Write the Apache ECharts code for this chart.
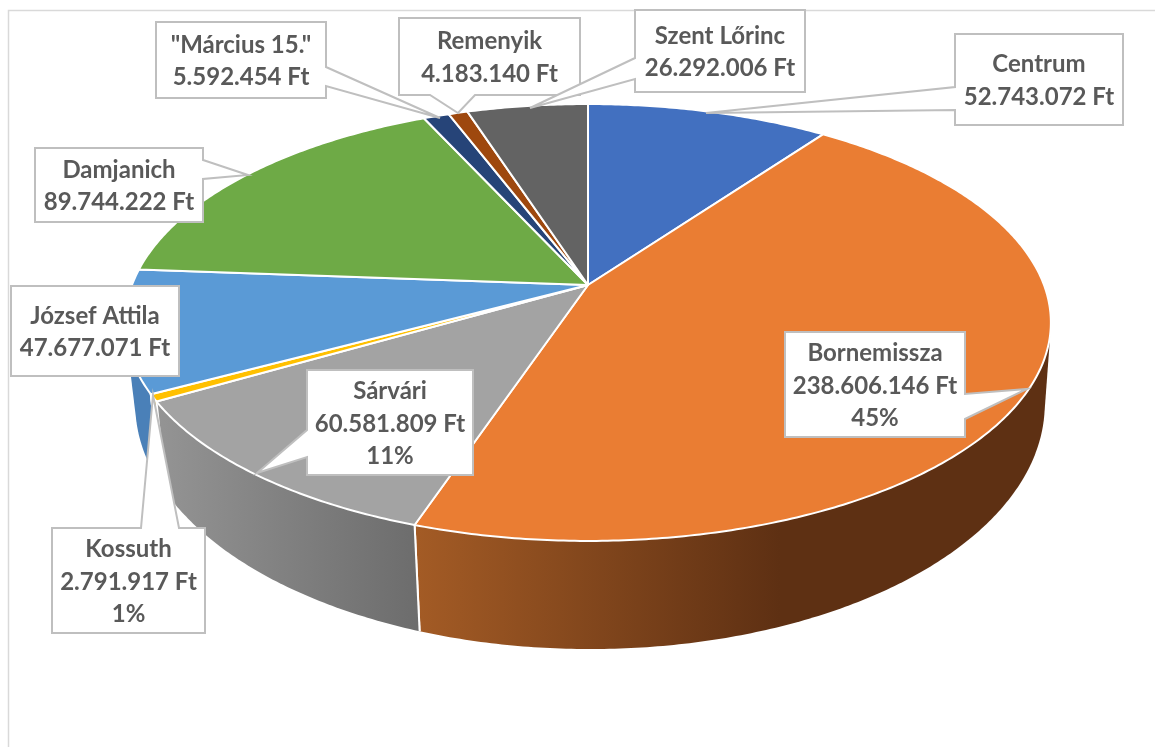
<!DOCTYPE html>
<html><head><meta charset="utf-8">
<style>html,body{margin:0;padding:0;background:#fff}#c{width:1155px;height:747px}</style>
<script src="https://cdn.jsdelivr.net/npm/echarts@6/dist/echarts.min.js"></script>
</head><body><div id="c"></div>
<script>
// ---- data ----
const categories = ['Centrum','Bornemissza','Sárvári','Kossuth','József Attila','Damjanich','"Március 15."','Remenyik','Szent Lőrinc'];
const values = [52743072,238606146,60581809,2791917,47677071,89744222,5592454,4183140,26292006];
const withPercent = ['Bornemissza','Sárvári','Kossuth'];
const topColors = ['#4270c0','#ea7d33','#a3a3a3','#ffc000','#5a9ad6','#6eaa46','#264478','#9e480e','#636363'];
const wallColors = [
  ['#2f4f88','#2f4f88'],['#a35b25','#5e3013'],['#949494','#6d6d6d'],['#c99800','#c99800'],
  ['#4a80b8','#4a80b8'],['#4e7a32','#4e7a32'],['#1a2f54','#1a2f54'],['#6e320a','#6e320a'],['#454545','#454545']];

// ---- perspective geometry of the pie's top and bottom rims ----
const topRim = {cx:588, cy:285, a:456, b:212, k:0.1716};
const botRim = {cx:590, cy:362, a:448, b:237.8, k:0.1716};
const wallGrad = [null,[418,780],[157,415],null,null,null,null,null,null];

// ---- callout layout: box [x0,y0,x1,y1], pointer tip and the two points where it leaves the box ----
const callouts = {
  'Centrum':      {box:[955,34,1123,125],  tip:[706,113], side:'left',  p:[87,110]},
  'Bornemissza':  {box:[785,332,965,437],  tip:[1027,389],side:'right', p:[394,419]},
  'Sárvári':      {box:[307,370,473,475],  tip:[257,473], side:'left',  p:[430,457]},
  'Kossuth':      {box:[52,528,205,633],   tip:[153,395], side:'top',   p:[141,179]},
  'József Attila':{box:[11,286,179,376]},
  'Damjanich':    {box:[35,148,203,222],   tip:[248,175], side:'right', p:[160,179]},
  '"Március 15."':{box:[156,22,326,98],    tip:[440,118], side:'right', p:[67,86]},
  'Remenyik':     {box:[399,18,580,95],    tip:[458,113], side:'bottom',p:[430,475]},
  'Szent Lőrinc': {box:[635,10,805,92],    tip:[530,108], side:'left',  p:[58,79]}
};

// ---- scale: value -> angle -> projected rim point ----
const total = values.reduce((s,v)=>s+v,0);
const starts = []; values.reduce((s,v,i)=>{starts[i]=s;return s+v;},0);
const angle = v => v/total*2*Math.PI;
function project(r, t){
  const u=Math.sin(t), v=-Math.cos(t), d=1-r.k*v;
  return [r.cx+r.a*u/d, r.cy+r.b*v/d];
}
function arc(r,t0,t1){
  const n=Math.max(2,Math.ceil((t1-t0)/0.01)), pts=[];
  for(let i=0;i<=n;i++) pts.push(project(r,t0+(t1-t0)*i/n));
  return pts;
}
function hull(points){
  const p=points.slice().sort((a,b)=>a[0]-b[0]||a[1]-b[1]);
  const cr=(o,a,b)=>(a[0]-o[0])*(b[1]-o[1])-(a[1]-o[1])*(b[0]-o[0]);
  const lo=[],up=[];
  for(const q of p){while(lo.length>1&&cr(lo[lo.length-2],lo[lo.length-1],q)<=0)lo.pop();lo.push(q);}
  for(const q of p.slice().reverse()){while(up.length>1&&cr(up[up.length-2],up[up.length-1],q)<=0)up.pop();up.push(q);}
  return lo.slice(0,-1).concat(up.slice(0,-1));
}
const fmt = v => String(v).replace(/\B(?=(\d{3})+$)/g,'.')+' Ft';

function renderWall(params){
  const i=params.dataIndex, t0=angle(starts[i]), t1=t0+angle(values[i]);
  const pts=hull(arc(topRim,t0,t1).concat(arc(botRim,t0,t1)));
  const g=wallGrad[i], c=wallColors[i];
  const fill=g?{type:'linear',global:true,x:g[0],y:0,x2:g[1],y2:0,colorStops:[{offset:0,color:c[0]},{offset:1,color:c[1]}]}:c[0];
  const seam=[project(topRim,t0),project(botRim,t0)], seam2=[project(topRim,t1),project(botRim,t1)];
  return {type:'group',children:[
    {type:'polygon',shape:{points:pts},style:{fill:fill}},
    {type:'polyline',shape:{points:seam},style:{stroke:'#fff',lineWidth:2,fill:null}},
    {type:'polyline',shape:{points:seam2},style:{stroke:'#fff',lineWidth:2,fill:null}}
  ]};
}
function renderTop(params){
  const i=params.dataIndex, t0=angle(starts[i]), t1=t0+angle(values[i]);
  const pts=[[topRim.cx,topRim.cy]].concat(arc(topRim,t0,t1));
  return {type:'polygon',shape:{points:pts},style:{fill:topColors[i],stroke:'#fff',lineWidth:2,lineJoin:'round'}};
}
function renderCallout(params){
  const i=params.dataIndex, name=categories[i], c=callouts[name], b=c.box;
  const pts=[];
  const tl=[b[0],b[1]],tr=[b[2],b[1]],br=[b[2],b[3]],bl=[b[0],b[3]];
  pts.push(tl);
  if(c.side==='top') pts.push([c.p[0],b[1]],c.tip,[c.p[1],b[1]]);
  pts.push(tr);
  if(c.side==='right') pts.push([b[2],c.p[0]],c.tip,[b[2],c.p[1]]);
  pts.push(br);
  if(c.side==='bottom') pts.push([c.p[1],b[3]],c.tip,[c.p[0],b[3]]);
  pts.push(bl);
  if(c.side==='left') pts.push([b[0],c.p[1]],c.tip,[b[0],c.p[0]]);
  const lines=[name,fmt(values[i])];
  if(withPercent.includes(name)) lines.push(Math.round(values[i]/total*100)+'%');
  return {type:'group',children:[
    {type:'polygon',shape:{points:pts},style:{fill:'#fff',stroke:'#bfbfbf',lineWidth:2}},
    {type:'text',x:(b[0]+b[2])/2,y:(b[1]+b[3])/2+1.5,style:{text:lines.join('\n'),fill:'#595959',
      font:'bold 24px Lato',lineHeight:32.5,align:'center',verticalAlign:'middle'}}
  ]};
}
// walls painted back to front
const wallOrder = categories.map((_,i)=>i).sort((p,q)=>{
  const m=i=>-Math.cos(angle(starts[i]+values[i]/2));
  return m(p)-m(q);
});
const idx = categories.map((_,i)=>i);
const chart = echarts.init(document.getElementById('c'),null,{renderer:'canvas'});
chart.setOption({
  animation:false,
  backgroundColor:'#fff',
  graphic:[{type:'polyline',silent:true,z:0,shape:{points:[[8.5,747],[8.5,10.5],[1155,10.5]]},style:{stroke:'#d9d9d9',lineWidth:1.5,fill:null}}],
  series:[
    {type:'custom',name:'walls',coordinateSystem:'none',silent:true,z:1,data:idx.map(i=>[i]),
     renderItem:(p,api)=>{const order=wallOrder[p.dataIndex];return renderWall({dataIndex:order});}},
    {type:'custom',name:'tops',coordinateSystem:'none',silent:true,z:2,data:idx.map(i=>[i]),renderItem:renderTop},
    {type:'custom',name:'callouts',coordinateSystem:'none',silent:true,z:3,data:idx.map(i=>[i]),renderItem:renderCallout}
  ]
});
</script></body></html>
